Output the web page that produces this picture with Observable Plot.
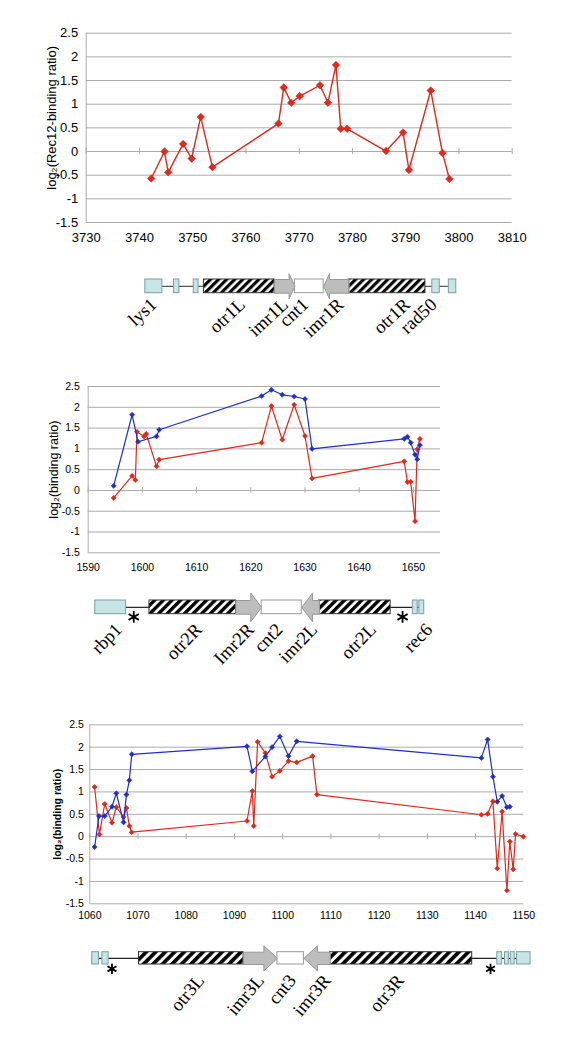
<!DOCTYPE html>
<html><head><meta charset="utf-8">
<script src="https://cdn.jsdelivr.net/npm/d3@7"></script>
<script src="https://cdn.jsdelivr.net/npm/@observablehq/plot@0.6"></script>
<style>
body{margin:0;background:#fff;}
#root{position:relative;width:563px;height:1048px;overflow:hidden;background:#fff;}
#root > svg{position:absolute;left:0;}
</style></head><body><div id="root"></div>
<script>
// ---------- DATA ----------
const yTickValues = [-1.5, -1, -0.5, 0, 0.5, 1, 1.5, 2, 2.5];

// Panel 1 (cen1, Rec12)
const p1XTicks = [3730, 3740, 3750, 3760, 3770, 3780, 3790, 3800, 3810];
const p1Kb = [3742.2,3744.7,3745.4,3748.2,3749.8,3751.5,3753.7,3766.1,3767.1,3768.5,3770.1,3773.9,3775.4,3776.9,3777.8,3779.0,3786.3,3789.5,3790.6,3794.7,3796.9,3798.2];
const p1Rec12 = [-0.57,0.00,-0.44,0.16,-0.15,0.73,-0.33,0.59,1.35,1.03,1.17,1.40,1.03,1.83,0.48,0.48,0.01,0.40,-0.39,1.29,-0.03,-0.58];
const p1Features = [[3741.1,3744.3,"exon"],[3746.5,3747.5,"exon"],[3750.2,3751.1,"exon"],[3752.1,3765.4,"otr"],[3765.4,3769.2,"imrR"],[3769.2,3774.6,"cnt"],[3774.6,3779.3,"imrL"],[3779.3,3793.7,"otr"],[3795.0,3796.4,"exon"],[3798.1,3799.5,"exon"]];
const p1Backbone = [[3744.3,3752.1],[3793.7,3799.5]];
const p1Labels = [["lys1",3742.7],["otr1L",3759.3],["imr1L",3767.4],["cnt1",3771.2],["imr1R",3777.8],["otr1R",3790.3],["rad50",3795.3]];
const p1Stars = [];

// Panel 2 (cen2)
const p2XTicks = [1590, 1600, 1610, 1620, 1630, 1640, 1650];
const p2BlueKb = [1594.7,1598.1,1599.2,1602.6,1603.1,1622.0,1623.8,1625.8,1628.0,1630.0,1631.3,1648.3,1648.9,1649.5,1650.3,1650.7,1651.2];
const p2Blue = [0.11,1.82,1.17,1.30,1.46,2.27,2.42,2.30,2.26,2.20,1.00,1.24,1.29,1.15,0.86,0.75,1.09];
const p2RedKb = [1594.7,1598.1,1598.7,1599.0,1600.3,1600.7,1602.6,1603.1,1622.0,1623.8,1625.8,1628.0,1630.0,1631.3,1648.3,1648.9,1649.5,1650.3,1650.7,1651.2];
const p2Red = [-0.18,0.35,0.25,1.41,1.30,1.36,0.58,0.74,1.15,2.03,1.22,2.06,1.31,0.29,0.70,0.20,0.21,-0.74,0.99,1.24];
const p2Features = [[1591.3,1597.0,"exon"],[1601.3,1617.3,"otr"],[1617.3,1622.0,"imrR"],[1622.0,1629.4,"cnt"],[1629.4,1632.6,"imrL"],[1632.6,1645.8,"otr"],[1649.9,1650.8,"exon"],[1651.1,1652.0,"exon"]];
const p2Backbone = [[1597.0,1601.3],[1645.8,1652.0]];
const p2Labels = [["rbp1",1595.6],["otr2R",1610.4],["Imr2R",1620.0],["cnt2",1625.3],["imr2L",1631.7],["otr2L",1642.5],["rec6",1652.9]];
const p2Stars = [1598.4, 1648.0];

// Panel 3 (cen3)
const p3XTicks = [1060, 1070, 1080, 1090, 1100, 1110, 1120, 1130, 1140, 1150];
const p3BlueKb = [1061.0,1061.9,1063.1,1064.6,1065.5,1067.0,1067.6,1068.2,1068.7,1092.6,1093.7,1096.4,1097.8,1099.4,1101.2,1102.9,1141.2,1142.5,1143.6,1144.5,1145.5,1146.5,1147.1];
const p3Blue = [-0.23,0.46,0.46,0.67,0.97,0.32,0.94,1.26,1.84,2.02,1.46,1.79,2.00,2.24,1.80,2.13,1.76,2.17,1.34,0.78,0.91,0.66,0.67];
const p3RedKb = [1061.0,1062.0,1063.1,1064.6,1065.5,1067.0,1067.6,1068.2,1068.7,1092.6,1093.7,1094.0,1094.8,1096.4,1097.8,1099.4,1101.2,1102.9,1106.2,1107.1,1141.2,1142.5,1143.6,1144.5,1145.5,1146.5,1147.1,1147.8,1148.3,1149.9];
const p3Red = [1.11,0.05,0.73,0.31,0.66,0.44,0.64,0.24,0.10,0.35,1.02,0.24,2.12,1.87,1.34,1.47,1.69,1.66,1.80,0.94,0.49,0.51,0.79,-0.71,0.56,-1.20,-0.11,-0.73,0.06,0.00];
const p3Features = [[1060.5,1061.9,"exon"],[1062.6,1063.9,"exon"],[1070.2,1091.9,"otr"],[1091.9,1098.9,"imrR"],[1098.9,1104.4,"cnt"],[1104.4,1109.8,"imrL"],[1109.8,1139.3,"otr"],[1144.5,1145.5,"exon"],[1146.1,1146.9,"exon"],[1147.3,1148.1,"exon"],[1148.6,1151.4,"exon"]];
const p3Backbone = [[1060.5,1070.2],[1139.3,1151.4]];
const p3Labels = [["otr3L",1083.0],["imr3L",1095.4],["cnt3",1102.0],["imr3R",1109.2],["otr3R",1124.4]];
const p3Stars = [1064.6, 1143.1];

// ---------- STYLE ----------
const RED = "#e3271a", BLUE = "#1f2fcf", GRID = "#ababab";
const SANS = "'Liberation Sans', Arial, Helvetica, sans-serif";
const SERIF = "'Liberation Serif', 'Times New Roman', serif";
const W = 563;
const root = document.getElementById("root");

function place(svg, top) { svg.style.top = top + "px"; root.appendChild(svg); }

function makeChart(c) {
  const marks = [
    Plot.ruleY(yTickValues, {y: d => d, stroke: GRID, strokeWidth: 1}),
    Plot.ruleX([c.xDomain[0]], {x: d => d, stroke: GRID}),
    Plot.ruleX(c.xTicks, {x: d => d, y1: -0.065, y2: 0.065, stroke: GRID}),
    Plot.axisX({ticks: c.xTicks, tickSize: 0, tickPadding: c.xPad, tickFormat: d => String(d), fontSize: c.fs, label: null}),
    Plot.axisY({ticks: yTickValues, tickSize: 0, tickPadding: c.yPad, tickFormat: d => String(d), fontSize: c.fs, label: null}),
    Plot.text([c.title], {text: d => d, frameAnchor: "left", textAnchor: "middle", lineAnchor: "middle", rotate: -90,
      dx: c.titleDx, dy: c.titleDy, fontSize: c.titleFs, fontWeight: c.titleWeight})
  ];
  for (const s of c.series) {
    const data = s.x.map((x, i) => ({x, y: s.y[i]}));
    marks.push(Plot.line(data, {x: "x", y: "y", stroke: s.color, strokeWidth: c.sw}));
    marks.push(Plot.dot(data, {x: "x", y: "y", symbol: "diamond2", r: c.r, fill: s.color, stroke: s.color, strokeWidth: 0.6}));
  }
  return Plot.plot({
    width: W, height: c.height,
    marginLeft: c.mL, marginRight: c.mR, marginTop: c.mT, marginBottom: c.mB,
    x: {domain: c.xDomain, axis: null},
    y: {domain: [-1.5, 2.5], axis: null},
    style: {fontFamily: SANS, fontSize: c.fs + "px", color: "black", background: "white", overflow: "visible"},
    marks
  });
}

function addHatch(svg, id, period, bar) {
  const defs = d3.select(svg).insert("defs", ":first-child");
  const p = defs.append("pattern").attr("id", id).attr("patternUnits", "userSpaceOnUse")
    .attr("width", period).attr("height", period).attr("patternTransform", "rotate(45)");
  p.append("rect").attr("width", period).attr("height", period).attr("fill", "white");
  p.append("rect").attr("width", bar).attr("height", period).attr("fill", "black");
}

function makeDiagram(c) {
  const exons = c.features.filter(f => f[2] === "exon");
  const otrs = c.features.filter(f => f[2] === "otr");
  const cnts = c.features.filter(f => f[2] === "cnt");
  const arrows = [];
  c.features.forEach((f, i) => {
    const [s, e, k] = f;
    let pts = null;
    if (k === "imrR") { const b = e - c.headKb; pts = [[s,0],[b,0],[b,-c.headExt],[e,0.5],[b,1+c.headExt],[b,1],[s,1]]; }
    if (k === "imrL") { const b = s + c.headKb; pts = [[e,0],[b,0],[b,-c.headExt],[s,0.5],[b,1+c.headExt],[b,1],[e,1]]; }
    if (pts) pts.forEach(([x, y]) => arrows.push({id: i, x, y}));
  });
  const svg = Plot.plot({
    width: W, height: c.height,
    x: {domain: c.xDomain, range: c.xRange, axis: null},
    y: {domain: [0, 1], range: c.yRange, axis: null},
    style: {background: "white", overflow: "visible"},
    marks: [
      Plot.ruleY(c.backbone, {x1: d => d[0], x2: d => d[1], y: 0.5, stroke: c.lineColor, strokeWidth: 1.2}),
      Plot.rect(exons, {x1: d => d[0], x2: d => d[1], y1: 0, y2: 1, fill: "#c7e4e7", stroke: "#7d9ea2", strokeWidth: 1}),
      Plot.rect(otrs, {x1: d => d[0], x2: d => d[1], y1: 0, y2: 1, fill: `url(#${c.hatchId})`, stroke: "#333", strokeWidth: 1}),
      Plot.rect(cnts, {x1: d => d[0], x2: d => d[1], y1: 0, y2: 1, fill: "white", stroke: "#9a9a9a", strokeWidth: 1}),
      Plot.line(arrows, {x: "x", y: "y", z: "id", fill: "#bdbdbd", stroke: "#979797", strokeWidth: 1, curve: "linear-closed"}),
      Plot.dot(c.stars, {x: d => d, y: c.starY, symbol: "asterisk", r: c.starR, stroke: "black", strokeWidth: 1.8}),
      Plot.text(c.labels, {x: d => d[1], y: c.labelY, text: d => d[0], rotate: c.rotate, textAnchor: "end", lineAnchor: "middle",
        fontSize: c.labelFs, fontFamily: SERIF, fill: "black"})
    ]
  });
  addHatch(svg, c.hatchId, c.hatchPeriod, c.hatchPeriod * 0.55);
  return svg;
}

// ---------- PANEL 1 ----------
place(makeChart({
  xDomain: [3730, 3810], xTicks: p1XTicks, height: 250,
  mL: 85.7, mR: 51.3, mT: 32.7, mB: 28, fs: 13, xPad: 10.5, yPad: 8,
  title: "log₂(Rec12-binding ratio)", titleFs: 13, titleWeight: "normal", titleDx: -34, titleDy: -10,
  r: 3.4, sw: 1.4,
  series: [{x: p1Kb, y: p1Rec12, color: RED}]
}), 0);
place(makeDiagram({
  xDomain: [3730, 3810], xRange: [85.7, 511.7], height: 88, yRange: [30.7, 17],
  features: p1Features, backbone: p1Backbone, lineColor: "#555",
  stars: p1Stars, starY: -0.3, starR: 5,
  labels: p1Labels, labelY: -0.62, rotate: -43, labelFs: 18.5,
  headKb: 1.1, headExt: 0.42, hatchId: "hatch1", hatchPeriod: 5.7
}), 262);

// ---------- PANEL 2 ----------
place(makeChart({
  xDomain: [1590, 1655], xTicks: p2XTicks, height: 230,
  mL: 87.7, mR: 123, mT: 36, mB: 27.7, fs: 10.5, xPad: 11, yPad: 8.4,
  title: "log₂(binding ratio)", titleFs: 12.5, titleWeight: "normal", titleDx: -34.4, titleDy: 0,
  r: 2.3, sw: 1.2,
  series: [{x: p2RedKb, y: p2Red, color: RED}, {x: p2BlueKb, y: p2Blue, color: BLUE}]
}), 350);
place(makeDiagram({
  xDomain: [1590, 1655], xRange: [87.7, 440], height: 120, yRange: [33.7, 20],
  features: p2Features, backbone: p2Backbone, lineColor: "#222",
  stars: p2Stars, starY: -0.2, starR: 5.6,
  labels: p2Labels, labelY: -0.9, rotate: -46, labelFs: 18.5,
  headKb: 2.0, headExt: 0.55, hatchId: "hatch2", hatchPeriod: 6.1
}), 580);

// ---------- PANEL 3 ----------
place(makeChart({
  xDomain: [1060, 1150], xTicks: p3XTicks, height: 225,
  mL: 89.3, mR: 39.7, mT: 24.3, mB: 21.7, fs: 10.5, xPad: 7.4, yPad: 6,
  title: "log₂(binding ratio)", titleFs: 10.5, titleWeight: "bold", titleDx: -32.6, titleDy: 0,
  r: 2.3, sw: 1.2,
  series: [{x: p3RedKb, y: p3Red, color: RED}, {x: p3BlueKb, y: p3Blue, color: BLUE}]
}), 700);
place(makeDiagram({
  xDomain: [1060, 1150], xRange: [89.3, 523.3], height: 123, yRange: [39, 26.7],
  features: p3Features, backbone: p3Backbone, lineColor: "#222",
  stars: p3Stars, starY: -0.35, starR: 4.8,
  labels: p3Labels, labelY: -1.03, rotate: -50, labelFs: 18.5,
  headKb: 2.8, headExt: 0.52, hatchId: "hatch3", hatchPeriod: 6.7
}), 925);
</script></body></html>
